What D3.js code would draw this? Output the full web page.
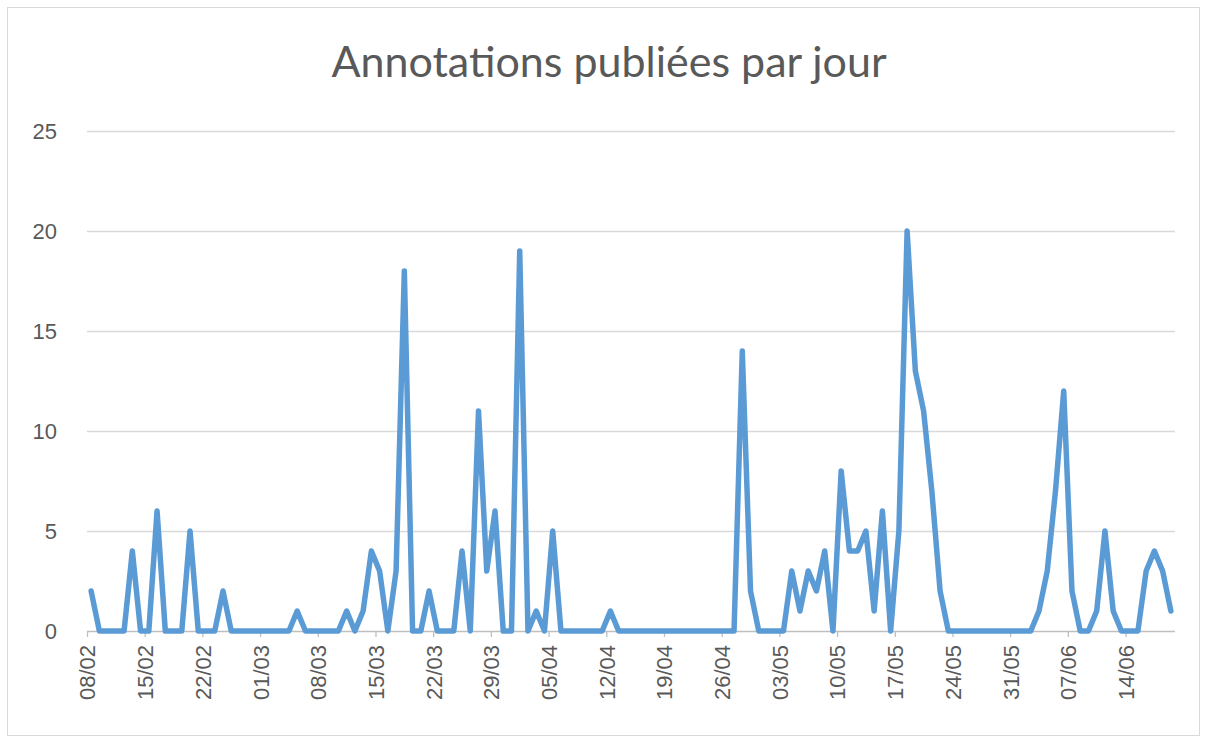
<!DOCTYPE html>
<html>
<head>
<meta charset="utf-8">
<script src="https://cdn.jsdelivr.net/npm/d3@7"></script>
<style>
    body { margin: 0; background: #fff; }
    svg { display: block; }
</style>
</head>
<body>
<div id="chart"></div>
<script>
// one value per day, starting on 08/02
const startDay = '08/02/2015';
const counts = [
    2, 0, 0, 0, 0, 4, 0, 0, 6, 0, 0, 0, 5, 0, 0, 0, 2, 0,
    0, 0, 0, 0, 0, 0, 0, 1, 0, 0, 0, 0, 0,
    1, 0, 1, 4, 3, 0, 3, 18, 0, 0, 2, 0, 0, 0, 4, 0, 11, 3, 6, 0, 0, 19, 0, 1, 0, 5,
    0, 0, 0, 0, 0, 0, 1,
    0, 0, 0, 0, 0, 0, 0, 0, 0, 0, 0, 0, 0, 0, 0,
    14, 2, 0, 0, 0, 0, 3, 1, 3, 2, 4, 0, 8, 4, 4, 5, 1, 6, 0, 5, 20, 13, 11, 7, 2,
    0, 0, 0, 0, 0, 0, 0, 0, 0, 0, 0,
    1, 3, 7, 12, 2, 0, 0, 1, 5, 1, 0, 0, 0, 3, 4, 3, 1
];
const tickLabels = ['08/02', '15/02', '22/02', '01/03', '08/03', '15/03', '22/03', '29/03', '05/04',
    '12/04', '19/04', '26/04', '03/05', '10/05', '17/05', '24/05', '31/05', '07/06', '14/06'];
const yTicks = [0, 5, 10, 15, 20, 25];
const title = 'Annotations publiées par jour';

const width = 1207;
const height = 740;
const margin = { left: 87, right: 32, top: 131, bottom: 109 };

const parseDay = d3.timeParse('%d/%m/%Y');
const first = parseDay(startDay);
const days = counts.map((c, i) => ({ date: d3.timeDay.offset(first, i), value: c }));
const tickDates = tickLabels.map((t) => parseDay(t + '/2015'));

const svg = d3.select('#chart')
    .append('svg')
    .attr('width', width)
    .attr('height', height)
    .style('font-family', 'Lato, "Open Sans", sans-serif');

svg.append('rect')
    .attr('x', 7.5).attr('y', 7.5)
    .attr('width', width - 15).attr('height', height - 12)
    .attr('fill', 'none')
    .attr('stroke', '#d9d9d9');

const x = d3.scaleTime()
    .domain([first, d3.timeDay.offset(first, counts.length)])
    .range([margin.left, width - margin.right]);

const y = d3.scaleLinear()
    .domain([0, 25])
    .range([height - margin.bottom, margin.top]);

// gridlines + y labels
const yAxis = svg.append('g')
    .attr('transform', `translate(${margin.left},0)`)
    .call(d3.axisLeft(y).tickValues(yTicks).tickSize(-(width - margin.left - margin.right)).tickPadding(30));
yAxis.select('.domain').remove();
yAxis.selectAll('.tick line')
    .attr('stroke', (d) => (d === 0 ? '#bfbfbf' : '#d9d9d9'))
    .attr('stroke-width', 1.3);
yAxis.selectAll('.tick text')
    .attr('fill', '#595959')
    .style('font-size', '22px');

// x axis ticks and rotated labels
const xAxis = svg.append('g')
    .attr('transform', `translate(0,${y(0)})`)
    .call(d3.axisBottom(x).tickValues(tickDates).tickSize(6).tickFormat((d, i) => tickLabels[i]));
xAxis.select('.domain').remove();
xAxis.selectAll('.tick line').attr('stroke', '#bfbfbf').attr('stroke-width', 1.3);
xAxis.selectAll('.tick text')
    .attr('fill', '#595959')
    .style('font-size', '22px')
    .attr('text-anchor', 'end')
    .attr('transform', 'rotate(-90)')
    .attr('x', -14)
    .attr('y', 0)
    .attr('dy', '0.36em');

const line = d3.line()
    .x((d) => x(d3.timeHour.offset(d.date, 12)))
    .y((d) => y(d.value));

svg.append('path')
    .datum(days)
    .attr('fill', 'none')
    .attr('stroke', '#5b9bd5')
    .attr('stroke-width', 5.5)
    .attr('stroke-linejoin', 'round')
    .attr('stroke-linecap', 'round')
    .attr('d', line);

svg.append('text')
    .attr('x', 609)
    .attr('y', 77)
    .attr('text-anchor', 'middle')
    .attr('fill', '#595959')
    .style('font-size', '43px')
    .text(title);
</script>
</body>
</html>
